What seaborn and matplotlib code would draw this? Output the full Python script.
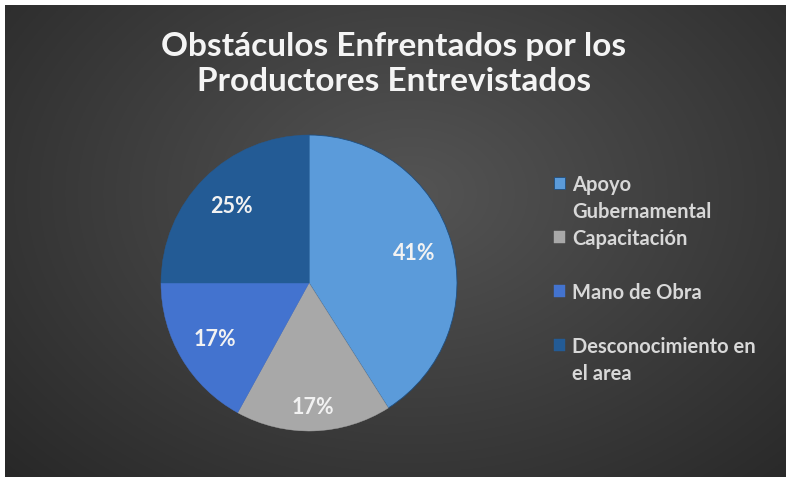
import numpy as np
import matplotlib.pyplot as plt
import seaborn as sns
from matplotlib.patches import Patch

# datos
categorias = ['Apoyo\nGubernamental', 'Capacitación', 'Mano de Obra', 'Desconocimiento en\nel area']
porcentajes = [41, 17, 17, 25]
colores = ['#5B9BDA', '#A8A8A8', '#4373CF', '#235B95']

sns.set_theme(style="dark")
plt.rcParams['font.family'] = ['Lato', 'DejaVu Sans']

fig = plt.figure(figsize=(7.88, 4.81), dpi=100)
fig.patch.set_facecolor('white')

# fondo con degradado radial
bg = fig.add_axes([5 / 788, 3 / 481, 781 / 788, 472 / 481])
yy, xx = np.mgrid[0:1:300j, 0:1:500j]
d = np.sqrt(((xx - 0.52) / 0.75) ** 2 + ((yy - 0.6) / 0.9) ** 2)
d = np.clip(d, 0, 1)
val = 0.33 - 0.18 * d
bg.imshow(np.dstack([val, val, val]), aspect='auto', extent=[0, 1, 0, 1], origin='lower')
bg.set_axis_off()

# pastel
r_px = 148
lim = 1.1
w = 2 * lim * r_px
cx, cy = 309, 284
ax = fig.add_axes([(cx - w / 2) / 788, (481 - cy - w / 2) / 481, w / 788, w / 481])
wedges, textos, autotextos = ax.pie(
    porcentajes, colors=colores, startangle=90, counterclock=False,
    autopct='%1.0f%%', pctdistance=0.74,
    wedgeprops=dict(edgecolor='#1f4f80', linewidth=0.6),
    textprops=dict(color='#f2f2f2', fontsize=15.5, fontweight='bold'))
ax.set_xlim(-lim, lim)
ax.set_ylim(-lim, lim)
ax.set_aspect('equal')
ax.patch.set_alpha(0)
# la etiqueta gris un poco más afuera
x, y = autotextos[1].get_position()
autotextos[1].set_position((x * 1.13, y * 1.13))
for w_ in wedges[1:]:
    w_.set_edgecolor(w_.get_facecolor())
    w_.set_linewidth(0.3)

# título
fig.text(0.5, 0.866, 'Obstáculos Enfrentados por los\nProductores Entrevistados',
         ha='center', va='center', color='#f4f4f4', fontsize=24, fontweight='bold',
         linespacing=1.25)

# leyenda (cada línea en su fila)
vacio = Patch(alpha=0)
filas = [('Apoyo', wedges[0]), ('Gubernamental', vacio), ('Capacitación', wedges[1]),
         (' ', vacio), ('Mano de Obra', wedges[2]), (' ', vacio),
         ('Desconocimiento en', wedges[3]), ('el area', vacio)]
ley = fig.legend([h for _, h in filas], [t for t, _ in filas],
                 loc='upper left', bbox_to_anchor=(554 / 788, 1 - 175 / 481),
                 frameon=False, fontsize=14.5, labelspacing=0.35,
                 handlelength=0.55, handleheight=0.55, handletextpad=0.35,
                 borderaxespad=0, borderpad=0)
for t in ley.get_texts():
    t.set_color('#d8d8d8')
    t.set_fontweight('bold')

fig.savefig('out.png', dpi=100)
